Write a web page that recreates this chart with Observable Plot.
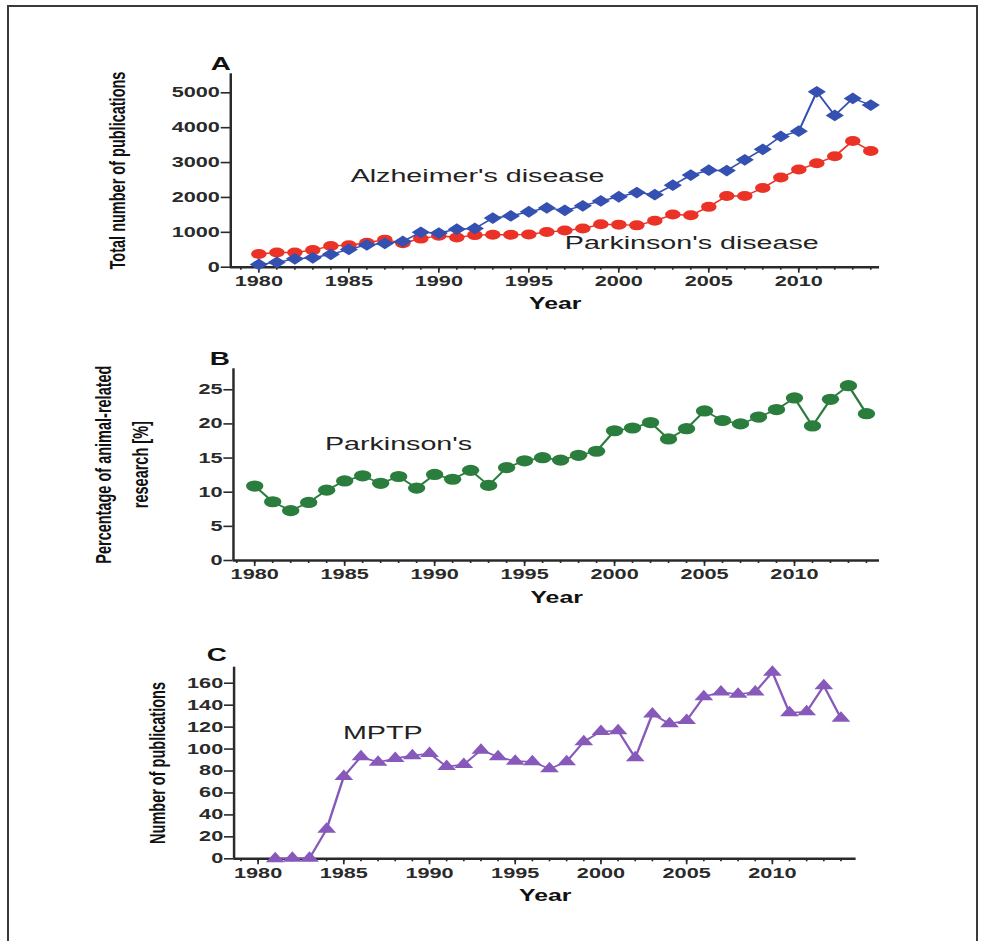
<!DOCTYPE html>
<html>
<head>
<meta charset="utf-8">
<script src="https://cdn.jsdelivr.net/npm/d3@7"></script>
<script src="https://cdn.jsdelivr.net/npm/@observablehq/plot@0.6"></script>
<style>
  html, body { margin: 0; padding: 0; background: #ffffff; }
  #page { position: relative; width: 981px; height: 941px; overflow: hidden; background: #fff; }
  #frame { position: absolute; left: 7px; top: 5px; width: 971px; height: 950px; border: 2px solid #3a3a3a; box-sizing: border-box; }
  .panel { position: absolute; left: 0; }
</style>
</head>
<body>
<div id="page"><div id="frame"></div></div>
<script>
// ---------- data ----------
const years = [1980, 1981, 1982, 1983, 1984, 1985, 1986, 1987, 1988, 1989,
  1990, 1991, 1992, 1993, 1994, 1995, 1996, 1997, 1998, 1999,
  2000, 2001, 2002, 2003, 2004, 2005, 2006, 2007, 2008, 2009,
  2010, 2011, 2012, 2013, 2014];
const alzheimers = [80, 140, 240, 270, 370, 510, 640, 680, 740, 1000,
  980, 1090, 1110, 1410, 1470, 1590, 1700, 1630, 1760, 1900,
  2020, 2140, 2080, 2350, 2640, 2780, 2770, 3080, 3380, 3750,
  3900, 5030, 4350, 4840, 4650];
const parkinsons = [380, 420, 420, 490, 610, 630, 700, 790, 690, 820,
  900, 850, 920, 930, 930, 940, 1010, 1050, 1110, 1230,
  1220, 1200, 1330, 1510, 1490, 1730, 2040, 2040, 2270, 2570,
  2800, 2980, 3180, 3620, 3330];
const animalPct = [10.9, 8.6, 7.3, 8.5, 10.3, 11.65, 12.4, 11.3, 12.3, 10.6,
  12.6, 11.9, 13.2, 11.0, 13.6, 14.6, 15.05, 14.7, 15.4, 16.0,
  19.0, 19.4, 20.2, 17.8, 19.3, 21.9, 20.5, 20.0, 21.0, 22.1,
  23.8, 19.7, 23.6, 25.6, 21.5];
const mptpYears = [1981, 1982, 1983, 1984, 1985, 1986, 1987, 1988, 1989,
  1990, 1991, 1992, 1993, 1994, 1995, 1996, 1997, 1998, 1999,
  2000, 2001, 2002, 2003, 2004, 2005, 2006, 2007, 2008, 2009,
  2010, 2011, 2012, 2013, 2014];
const mptp = [0, 0.5, 0.5, 27, 75, 93, 88, 91.5, 94,
  96, 84, 86, 99, 93, 89, 88.5, 82, 88.5, 106.7,
  116, 116.7, 92, 132, 123, 126, 147.6, 152, 150, 152,
  170, 133, 134, 157.6, 128];
const xTickLabels = [1980, 1985, 1990, 1995, 2000, 2005, 2010];
const xMinorTicks = [1979, 1980, 1981, 1982, 1983, 1984, 1985, 1986, 1987, 1988, 1989,
  1990, 1991, 1992, 1993, 1994, 1995, 1996, 1997, 1998, 1999,
  2000, 2001, 2002, 2003, 2004, 2005, 2006, 2007, 2008, 2009,
  2010, 2011, 2012, 2013, 2014];
const yTicksA = [0, 1000, 2000, 3000, 4000, 5000];
const yTicksB = [0, 5, 10, 15, 20, 25];
const yTicksC = [0, 20, 40, 60, 80, 100, 120, 140, 160];
const panelLetters = ["A", "B", "C"];
const yTitles = ["Total number of publications", "Percentage of animal-related\nresearch [%]", "Number of publications"];
const xTitle = "Year";
const seriesNames = ["Alzheimer's disease", "Parkinson's disease", "Parkinson's", "MPTP"];

// ---------- layout helpers ----------
const REAL_W = 981;
const BASE_W = 633;            // drawn narrower, then stretched horizontally like the original figure
const S = REAL_W / BASE_W;
const FONT = "'Liberation Sans', Arial, Helvetica, sans-serif";
const INK = "#2a2a2a";

function commonMarks(o) {
  return [
    Plot.axisX({ticks: xMinorTicks, tickSize: 3, tickFormat: () => "", stroke: INK, strokeWidth: 1.1, label: null}),
    Plot.axisX({ticks: xTickLabels, tickSize: 6, tickPadding: 3, tickFormat: d => String(d), stroke: INK, strokeWidth: 1.1,
      fontSize: 14, fontWeight: "bold", label: null}),
    Plot.axisY({ticks: o.yTicks, tickSize: 6, tickPadding: 1, tickFormat: d => String(d), stroke: INK, strokeWidth: 1.6,
      fontSize: 14, fontWeight: "bold", label: null}),
    Plot.ruleY([0], {stroke: INK, strokeWidth: 2.4}),
    Plot.ruleX([o.xDomain[0]], {stroke: INK, strokeWidth: 1.6}),
    Plot.text([o.letter], {text: d => d, frameAnchor: "top-left", textAnchor: "middle", dx: o.letterDx, dy: o.letterDy,
      lineAnchor: "bottom", fontSize: 18, fontWeight: "bold", fill: "#111"}),
    Plot.text([o.yTitle], {text: d => d, frameAnchor: "left", textAnchor: "middle", rotate: -90, dx: o.titleDx,
      lineAnchor: "middle", lineHeight: o.titleLH || 1, fontSize: 14.5, fontWeight: "bold", fill: "#111"}),
    Plot.text([xTitle], {text: d => d, frameAnchor: "bottom", textAnchor: "middle", dy: 37, lineAnchor: "middle",
      fontSize: 16, fontWeight: "bold", fill: "#111"})
  ];
}

function place(svg, top, h) {
  svg.setAttribute("width", REAL_W);
  svg.setAttribute("height", h);
  svg.setAttribute("preserveAspectRatio", "none");
  svg.style.maxWidth = "none";
  svg.style.width = REAL_W + "px";
  svg.style.height = h + "px";
  svg.classList.add("panel");
  svg.style.position = "absolute";
  svg.style.top = top + "px";
  svg.style.left = "0px";
  document.getElementById("page").appendChild(svg);
}

const styleObj = {fontFamily: FONT, fontSize: "14px", fontWeight: "bold", color: INK, background: "transparent", overflow: "visible"};

// ---------- Panel A ----------
const rowsA = years.map((y, i) => ({year: y, ad: alzheimers[i], pd: parkinsons[i]}));
const xDomA = [1978.44, 2014.5];
const hA = 320;
const svgA = Plot.plot({
  width: BASE_W, height: hA,
  marginLeft: 230 / S, marginRight: BASE_W - 879 / S, marginTop: 73.3, marginBottom: hA - 266.7,
  style: styleObj,
  x: {domain: xDomA},
  y: {domain: [0, 5545]},
  marks: [
    ...commonMarks({yTicks: yTicksA, xDomain: xDomA, letter: panelLetters[0], letterDx: 142 - 230 / S, letterDy: -4,
      yTitle: yTitles[0], titleDx: 117 / S - 230 / S}),
    Plot.line(rowsA, {x: "year", y: "pd", stroke: "#ea3326", strokeWidth: 1.4}),
    Plot.dot(rowsA, {x: "year", y: "pd", r: 5, fill: "#ea3326", stroke: "none"}),
    Plot.line(rowsA, {x: "year", y: "ad", stroke: "#3450b0", strokeWidth: 1.4}),
    Plot.dot(rowsA, {x: "year", y: "ad", r: 5.3, symbol: "diamond2", fill: "#3450b0", stroke: "none"}),
    Plot.text([seriesNames[0]], {text: d => d, x: () => 1985.1, y: () => 2600, textAnchor: "start", lineAnchor: "middle",
      fontSize: 18.5, fontWeight: "normal", fill: "#222"}),
    Plot.text([seriesNames[1]], {text: d => d, x: () => 1997.0, y: () => 690, textAnchor: "start", lineAnchor: "middle",
      fontSize: 18.5, fontWeight: "normal", fill: "#222"})
  ]
});
place(svgA, 0, hA);

// ---------- Panel B ----------
const rowsB = years.map((y, i) => ({year: y, pct: animalPct[i]}));
const xDomB = [1978.82, 2014.74];
const topB = 320, hB = 310;
const svgB = Plot.plot({
  width: BASE_W, height: hB,
  marginLeft: 232.7 / S, marginRight: BASE_W - 879 / S, marginTop: 368.3 - topB, marginBottom: topB + hB - 560,
  style: styleObj,
  x: {domain: xDomB},
  y: {domain: [0, 28.07]},
  marks: [
    ...commonMarks({yTicks: yTicksB, xDomain: xDomB, letter: panelLetters[1], letterDx: 141.3 - 232.7 / S, letterDy: -4,
      yTitle: yTitles[1], titleDx: 117 / S - 232.7 / S, titleLH: 1.65}),
    Plot.line(rowsB, {x: "year", y: "pct", stroke: "#2a7d3c", strokeWidth: 1.6}),
    Plot.dot(rowsB, {x: "year", y: "pct", r: 5.6, fill: "#2a7d3c", stroke: "none"}),
    Plot.text([seriesNames[2]], {text: d => d, x: () => 1983.9, y: () => 17.0, textAnchor: "start", lineAnchor: "middle",
      fontSize: 18.5, fontWeight: "normal", fill: "#222"})
  ]
});
place(svgB, topB, hB);

// ---------- Panel C ----------
const rowsC = mptpYears.map((y, i) => ({year: y, n: mptp[i]}));
const xDomC = [1978.6, 2014.9];
const topC = 630, hC = 311;
const svgC = Plot.plot({
  width: BASE_W, height: hC,
  marginLeft: 233.3 / S, marginRight: BASE_W - 855.6 / S, marginTop: 666.7 - topC, marginBottom: topC + hC - 858.3,
  style: styleObj,
  x: {domain: xDomC},
  y: {domain: [0, 174.6]},
  marks: [
    ...commonMarks({yTicks: yTicksC, xDomain: xDomC, letter: panelLetters[2], letterDx: 139.4 - 233.3 / S, letterDy: -6,
      yTitle: yTitles[2], titleDx: 157 / S - 233.3 / S}),
    Plot.line(rowsC, {x: "year", y: "n", stroke: "#8759bb", strokeWidth: 1.6}),
    Plot.dot(rowsC, {x: "year", y: "n", r: 4.5, symbol: "triangle", fill: "#8759bb", stroke: "none"}),
    Plot.text([seriesNames[3]], {text: d => d, x: () => 1984.95, y: () => 115, textAnchor: "start", lineAnchor: "middle",
      fontSize: 18.5, fontWeight: "normal", fill: "#222"})
  ]
});
place(svgC, topC, hC);
</script>
</body>
</html>
